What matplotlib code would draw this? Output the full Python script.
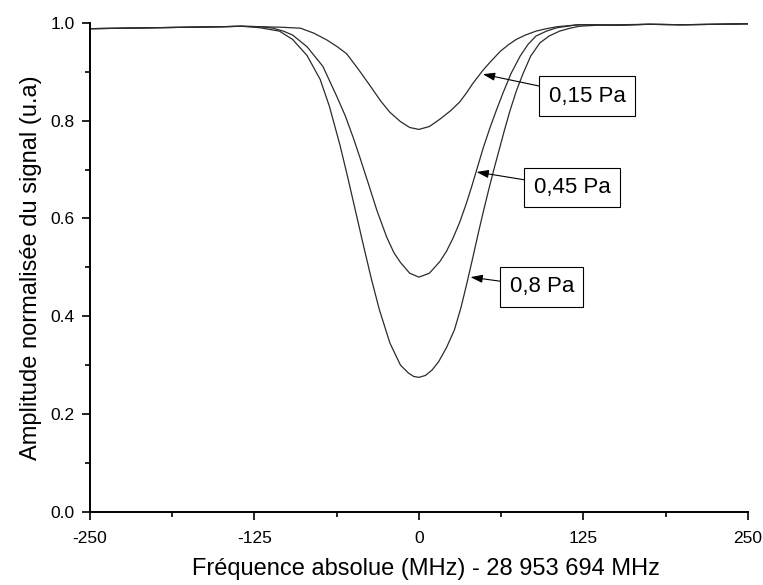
import matplotlib
matplotlib.use('Agg')
import matplotlib.pyplot as plt
from matplotlib.ticker import MultipleLocator, FormatStrFormatter

plt.rcParams['font.family'] = ['Liberation Sans', 'DejaVu Sans']
plt.rcParams['axes.unicode_minus'] = False

# values (MHz offset, normalised amplitude)
freq_015 = [-250, -225, -200, -175, -150, -135, -120, -105, -90, -80, -70, -62, -55,
            -46, -37, -29, -22, -14, -7, 0, 8, 16, 24, 31, 36, 41, 49, 55, 62,
            68, 74, 81, 89, 97, 105, 113, 122, 135, 150, 175, 200, 225, 250]
amp_015 = [0.988, 0.989, 0.990, 0.991, 0.992, 0.993, 0.992, 0.991, 0.989, 0.979, 0.965,
           0.951, 0.937, 0.905, 0.871, 0.840, 0.817, 0.798, 0.786, 0.782, 0.788, 0.803,
           0.820, 0.838, 0.856, 0.876, 0.904, 0.922, 0.942, 0.955, 0.966, 0.975, 0.983,
           0.988, 0.992, 0.994, 0.996, 0.996, 0.995, 0.997, 0.996, 0.997, 0.998]

freq_045 = [-250, -225, -200, -175, -150, -135, -120, -111, -103, -96, -85, -73, -62.5,
            -56, -50, -45, -38.5, -32, -24.5, -19, -14, -7, 0, 8, 16, 21, 26, 31, 36,
            40, 44, 49, 54, 59, 64, 70, 77, 83, 89, 97, 105, 113, 120, 135, 150,
            175, 200, 225, 250]
amp_045 = [0.988, 0.989, 0.990, 0.991, 0.992, 0.993, 0.992, 0.989, 0.983, 0.975, 0.951,
           0.911, 0.850, 0.810, 0.766, 0.726, 0.672, 0.617, 0.562, 0.530, 0.510, 0.488,
           0.480, 0.488, 0.512, 0.533, 0.560, 0.592, 0.630, 0.664, 0.700, 0.745, 0.785,
           0.822, 0.857, 0.896, 0.932, 0.956, 0.973, 0.983, 0.990, 0.993, 0.996, 0.996,
           0.995, 0.997, 0.996, 0.997, 0.998]

freq_08 = [-250, -225, -200, -175, -150, -135, -121, -106, -96, -85, -75, -68, -60,
           -54, -48, -42, -36, -30, -22, -14, -8, -4, 0, 5, 10, 15, 21, 27, 32,
           36, 41, 45, 49, 53, 57, 61, 65, 69, 74, 79, 85, 92, 99, 107, 115,
           122, 135, 150, 175, 200, 225, 250]
amp_08 = [0.988, 0.989, 0.990, 0.991, 0.992, 0.993, 0.990, 0.983, 0.966, 0.933, 0.884,
          0.829, 0.750, 0.683, 0.613, 0.543, 0.475, 0.413, 0.345, 0.300, 0.284, 0.277,
          0.275, 0.279, 0.290, 0.307, 0.336, 0.372, 0.418, 0.462, 0.520, 0.568, 0.614,
          0.658, 0.700, 0.740, 0.780, 0.818, 0.860, 0.895, 0.932, 0.959, 0.973, 0.983,
          0.989, 0.993, 0.995, 0.996, 0.997, 0.996, 0.997, 0.998]

labels = ['0,15 Pa', '0,45 Pa', '0,8 Pa']
arrow_tips = [(48.6, 0.895), (43.8, 0.695), (39.2, 0.480)]
box_centers = [(128, 0.850), (116.5, 0.663), (93.5, 0.460)]

fig = plt.figure(figsize=(7.63, 5.85), dpi=100)
ax = fig.add_axes([0.118, 0.125, 0.862, 0.836])

for f, a in [(freq_015, amp_015), (freq_045, amp_045), (freq_08, amp_08)]:
    ax.plot(f, a, color='#2b2b2b', lw=0.9)

for lab, tip, cen in zip(labels, arrow_tips, box_centers):
    ax.annotate(lab, xy=tip, xytext=cen, fontsize=16, ha='center', va='center',
                bbox=dict(boxstyle='square,pad=0.42', fc='white', ec='black', lw=0.8),
                arrowprops=dict(arrowstyle='-|>,head_length=0.45,head_width=0.15',
                                color='black', lw=0.8, shrinkA=0, shrinkB=0))

ax.set_xlim(-250, 250)
ax.set_ylim(0, 1.0)
ax.xaxis.set_major_locator(MultipleLocator(125))
ax.xaxis.set_minor_locator(MultipleLocator(62.5))
ax.yaxis.set_major_locator(MultipleLocator(0.2))
ax.yaxis.set_minor_locator(MultipleLocator(0.1))
ax.yaxis.set_major_formatter(FormatStrFormatter('%.1f'))

for side in ['top', 'right']:
    ax.spines[side].set_visible(False)
for side in ['left', 'bottom']:
    ax.spines[side].set_linewidth(1.4)

ax.tick_params(which='major', direction='out', length=6, width=1.2, labelsize=12.5, pad=5)
ax.tick_params(which='minor', direction='out', length=3.5, width=1.2)
ax.tick_params(axis='x', which='major', pad=8)

ax.set_xlabel('Fréquence absolue (MHz) - 28 953 694 MHz', fontsize=17, labelpad=10)
ax.set_ylabel('Amplitude normalisée du signal (u.a)', fontsize=17, labelpad=6)
ax.xaxis.set_label_coords(0.51, -0.095)

fig.savefig('out.png', dpi=100)
